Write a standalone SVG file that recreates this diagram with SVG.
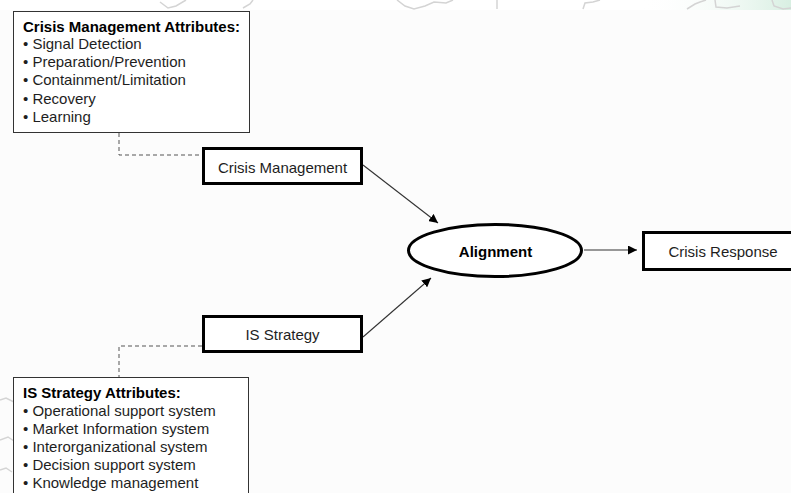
<svg xmlns="http://www.w3.org/2000/svg" width="791" height="493" viewBox="0 0 791 493">
  <style>
    .attr { fill: #ffffff; stroke: #333333; stroke-width: 1; }
    .node { fill: #ffffff; stroke: #000000; stroke-width: 3; }
    .title { font-family: "Liberation Sans", Arial, sans-serif; font-size: 15px; font-weight: bold; fill: #000000; }
    .item { font-family: "Liberation Sans", Arial, sans-serif; font-size: 15px; fill: #1e1e1e; }
    .label { font-family: "Liberation Sans", Arial, sans-serif; font-size: 15px; fill: #1e1e1e; text-anchor: middle; }
    .bold { font-weight: bold; fill: #000000; }
    .arrow { fill: none; stroke: #333333; stroke-width: 1.1; marker-end: url(#head); }
    .dash { fill: none; stroke: #555555; stroke-width: 1; stroke-dasharray: 4 3; }
    .wm { fill: none; stroke: #d4d4d4; stroke-width: 1.5; }
  </style>
  <defs>
    <marker id="head" viewBox="0 0 10 10" refX="10" refY="5" markerWidth="9" markerHeight="9" markerUnits="userSpaceOnUse" orient="auto">
      <path d="M0,0 L10,5 L0,10 z" fill="#000000"/>
    </marker>
    <linearGradient id="mint" x1="0" y1="0" x2="1" y2="0">
      <stop offset="0" stop-color="#ffffff" stop-opacity="0"/>
      <stop offset="1" stop-color="#d8efe2"/>
    </linearGradient>
  </defs>

  <!-- page background -->
  <rect x="0" y="0" width="791" height="493" fill="#fcfcfc"/>

  <!-- faint background band along the top edge -->
  <g id="band">
    <rect x="0" y="0" width="791" height="10" fill="#ffffff"/>
    <rect x="640" y="0" width="151" height="10" fill="url(#mint)"/>
    <path class="wm" d="M160,2 L168,8 L176,6 L186,0"/>
    <path class="wm" d="M243,8 L250,4 L253,0"/>
    <path class="wm" d="M397,0 L405,6 L414,9 L425,6 L434,2 L446,3 L453,0"/>
    <path class="wm" d="M497,0 L497,9"/>
    <path class="wm" d="M583,9 L585,3 L593,2 L600,0"/>
    <path class="wm" d="M687,9 L695,4 L700,2 L706,0"/>
    <path class="wm" d="M715,0 L716,7 L727,8 L740,6"/>
    <path class="wm" d="M772,0 L774,6 L783,9 L791,8"/>
    <path class="wm" d="M0,400 L6,398 L14,402"/>
    <path class="wm" d="M0,440 L8,437 L14,441"/>
    <path class="wm" d="M0,470 L6,468 L12,472"/>
  </g>

  <!-- connectors -->
  <g id="connectors">
    <path class="dash" d="M119,133 L119,155 L202,155"/>
    <path class="dash" d="M202,346 L119,346 L119,377"/>
    <path class="arrow" d="M363,165 L438,223"/>
    <path class="arrow" d="M363,337 L431,278"/>
    <path class="arrow" d="M584,250 L637,250"/>
  </g>

  <g id="cm-attributes">
    <rect class="attr" x="13.5" y="11.5" width="236" height="121"/>
    <text class="title" x="23" y="32">Crisis Management Attributes:</text>
    <text class="item" x="23" y="49">• Signal Detection</text>
    <text class="item" x="23" y="67">• Preparation/Prevention</text>
    <text class="item" x="23" y="85">• Containment/Limitation</text>
    <text class="item" x="23" y="103.5">• Recovery</text>
    <text class="item" x="23" y="122">• Learning</text>
  </g>

  <g id="is-attributes">
    <rect class="attr" x="13.5" y="377.5" width="235" height="130"/>
    <text class="title" x="23" y="398">IS Strategy Attributes:</text>
    <text class="item" x="23" y="416">• Operational support system</text>
    <text class="item" x="23" y="434">• Market Information system</text>
    <text class="item" x="23" y="452">• Interorganizational system</text>
    <text class="item" x="23" y="470">• Decision support system</text>
    <text class="item" x="23" y="488">• Knowledge management</text>
  </g>

  <g id="crisis-management">
    <rect class="node" x="203.5" y="148.5" width="158" height="35"/>
    <text class="label" x="282.5" y="173">Crisis Management</text>
  </g>

  <g id="is-strategy">
    <rect class="node" x="203.5" y="316.5" width="158" height="35"/>
    <text class="label" x="282.5" y="340">IS Strategy</text>
  </g>

  <g id="alignment">
    <ellipse class="node" cx="495" cy="250.5" rx="86.5" ry="26"/>
    <text class="label bold" x="495.5" y="257">Alignment</text>
  </g>

  <g id="crisis-response">
    <rect class="node" x="643.5" y="232.5" width="160" height="37"/>
    <text class="label" x="723" y="257">Crisis Response</text>
  </g>
</svg>
